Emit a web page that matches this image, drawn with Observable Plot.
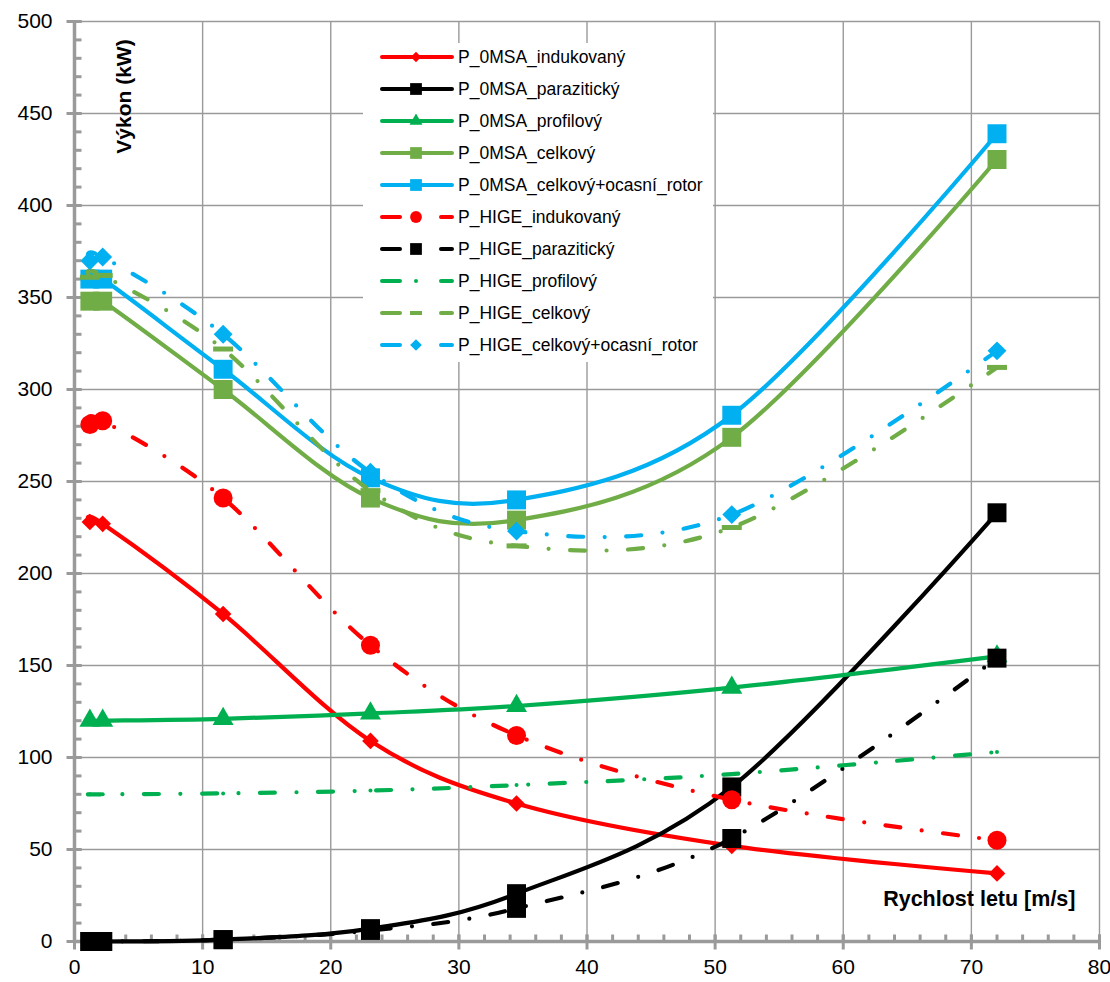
<!DOCTYPE html>
<html><head><meta charset="utf-8">
<script src="https://cdn.jsdelivr.net/npm/d3@7"></script>
<script src="https://cdn.jsdelivr.net/npm/@observablehq/plot@0.6"></script>
<style>
body{margin:0;background:#fff;overflow:hidden;font-family:"Liberation Sans",Arial,sans-serif}
#wrap{position:relative;width:1110px;height:982px}
#legend{position:absolute;left:363px;top:43px;width:350px;height:319px;background:#fff}
.row{position:absolute;left:17px;height:32px;display:flex;align-items:center;white-space:nowrap}
.row span{font-size:17.5px;color:#000;margin-left:2px}
</style></head><body><div id="wrap"><div id="legend"></div></div>
<script>
// ---- data ----
const speeds = [1.2, 2.2, 11.6, 23.1, 34.5, 51.3, 72.0];
const msaInd     = [228, 227, 178, 109, 75, 52, 37];
const msaPar     = [0, 0, 1, 7, 26, 84, 233];
const msaProf    = [120, 120, 121, 124, 128, 138, 155];
const msaCelk    = [348, 348, 300, 241, 229, 274, 425];
const msaCelkOR  = [360, 360, 311, 252, 240, 286, 439];
const higeInd    = [281, 283, 241, 161, 112, 77, 55];
const higePar    = [0, 0, 1, 6, 18, 56, 154];
const higeProf   = [80, 80, 80.5, 82, 85, 91, 103];
const higeCelk   = [361, 362, 322, 245, 215, 225, 312];
const higeCelkOR = [370, 372, 330, 255, 223, 232, 321];
const seriesNames = ["P_0MSA_indukovaný","P_0MSA_parazitický","P_0MSA_profilový","P_0MSA_celkový","P_0MSA_celkový+ocasní_rotor",
  "P_HIGE_indukovaný","P_HIGE_parazitický","P_HIGE_profilový","P_HIGE_celkový","P_HIGE_celkový+ocasní_rotor"];
const xTicks = [0,10,20,30,40,50,60,70,80];
const yTicks = [0,50,100,150,200,250,300,350,400,450,500];

// ---- styles ----
const hbar = {draw(ctx){ctx.rect(-10,-2.5,20,5);}};
const DASH = "15,21.5,0,21.5";
const styles = [
  {values: msaInd, color:"#FF0000", dash:null, symbol:"diamond2", r:7.5},
  {values: msaPar, color:"#000000", dash:null, symbol:"square", r:10.7},
  {values: msaProf, color:"#00B050", dash:null, symbol:"triangle", r:7.8},
  {values: msaCelk, color:"#70AD47", dash:null, symbol:"square", r:10.7},
  {values: msaCelkOR, color:"#00B0F0", dash:null, symbol:"square", r:10.7},
  {values: higeInd, color:"#FF0000", dash:DASH, symbol:"circle", r:9.5},
  {values: higePar, color:"#000000", dash:DASH, symbol:"square", r:10.7},
  {values: higeProf, color:"#00B050", dash:DASH, symbol:"circle", r:2},
  {values: higeCelk, color:"#70AD47", dash:DASH, symbol:hbar, r:5},
  {values: higeCelkOR, color:"#00B0F0", dash:DASH, symbol:"diamond2", r:8.5}
];

const tickRight = {draw(ctx){ctx.moveTo(0,0);ctx.lineTo(7,0);}};
const tickUp = {draw(ctx){ctx.moveTo(0,0);ctx.lineTo(0,-7);}};
const tickMajY = {draw(ctx){ctx.moveTo(-8,0);ctx.lineTo(7,0);}};
const tickMajX = {draw(ctx){ctx.moveTo(0,-7);ctx.lineTo(0,8);}};
const grey = "#9a9a9a";

const marks = [
  Plot.gridX(xTicks, {stroke: grey, strokeOpacity: 1, strokeWidth: 1.4}),
  Plot.gridY(yTicks, {stroke: grey, strokeOpacity: 1, strokeWidth: 1.4}),
  Plot.ruleX([0], {stroke: grey, strokeWidth: 3.5}),
  Plot.ruleY([0], {stroke: grey, strokeWidth: 3.5}),
  Plot.dot(d3.range(0, 501, 10), {x: d => 0, y: d => d, symbol: tickRight, r: 1, stroke: grey, fill: "none", strokeWidth: 3}),
  Plot.dot(yTicks, {x: d => 0, y: d => d, symbol: tickMajY, r: 1, stroke: grey, fill: "none", strokeWidth: 3}),
  Plot.dot(d3.range(0, 81, 2), {x: d => d, y: d => 0, symbol: tickUp, r: 1, stroke: grey, fill: "none", strokeWidth: 3}),
  Plot.dot(xTicks, {x: d => d, y: d => 0, symbol: tickMajX, r: 1, stroke: grey, fill: "none", strokeWidth: 3}),
  Plot.axisX({ticks: xTicks, tickSize: 0, tickPadding: 18, fontSize: 21, tickFormat: d => String(d), label: null}),
  Plot.axisY({ticks: yTicks, tickSize: 0, tickPadding: 22, fontSize: 21, tickFormat: d => String(d), label: null})
];

styles.forEach((s, i) => {
  const data = speeds.map((x, j) => ({x, y: s.values[j]}));
  marks.push(Plot.line(data, {x: "x", y: "y", curve: "cardinal", stroke: s.color, strokeWidth: 4.2,
    strokeDasharray: s.dash, strokeLinecap: s.dash ? "round" : "butt"}));
  marks.push(Plot.dot(data, {x: "x", y: "y", symbol: s.symbol, r: s.r, fill: s.color, stroke: "none"}));
});

marks.push(Plot.text(["Výkon (kW)"], {frameAnchor: "top-left", text: d => d, rotate: -90, dx: 42, dy: 75,
  fontSize: 21, fontWeight: "bold", textAnchor: "middle", fill: "#000"}));
marks.push(Plot.text(["Rychlost letu [m/s]"], {frameAnchor: "bottom-right", text: d => d, dx: -24, dy: -36,
  fontSize: 21.5, fontWeight: "bold", textAnchor: "end", fill: "#000"}));

const chart = Plot.plot({
  width: 1110, height: 982,
  marginLeft: 74, marginRight: 11, marginTop: 21, marginBottom: 41,
  x: {domain: [0, 80], label: null},
  y: {domain: [0, 500], label: null},
  style: {fontFamily: "'Liberation Sans', Arial, sans-serif", color: "#000", background: "#fff"},
  marks
});
document.getElementById("wrap").prepend(chart);

// ---- legend ----
const legend = document.getElementById("legend");
const symMap = {diamond2: d3.symbolDiamond2, square: d3.symbolSquare, triangle: d3.symbolTriangle, circle: d3.symbolCircle};
styles.forEach((s, i) => {
  const row = document.createElement("div");
  row.className = "row";
  row.style.top = (14 + 32 * i - 16) + "px";
  const ns = "http://www.w3.org/2000/svg";
  const svg = document.createElementNS(ns, "svg");
  svg.setAttribute("width", 76); svg.setAttribute("height", 32);
  const addLine = (x1, x2) => {
    const l = document.createElementNS(ns, "line");
    l.setAttribute("x1", x1); l.setAttribute("x2", x2); l.setAttribute("y1", 16); l.setAttribute("y2", 16);
    l.setAttribute("stroke", s.color); l.setAttribute("stroke-width", 4); l.setAttribute("stroke-linecap", "round");
    svg.appendChild(l);
  };
  if (s.dash) { addLine(2, 20); addLine(61, 72); } else { addLine(2, 72); }
  const p = document.createElementNS(ns, "path");
  if (s.symbol === hbar) {
    p.setAttribute("d", "M30,14h12v4h-12z");
  } else {
    const rr = s.r < 3 ? 2 : s.r * 0.62;
    p.setAttribute("d", d3.symbol(symMap[s.symbol], Math.PI * rr * rr)());
    p.setAttribute("transform", "translate(36,16)");
  }
  p.setAttribute("fill", s.color);
  svg.appendChild(p);
  row.appendChild(svg);
  const sp = document.createElement("span");
  sp.textContent = seriesNames[i];
  row.appendChild(sp);
  legend.appendChild(row);
});
</script></body></html>
